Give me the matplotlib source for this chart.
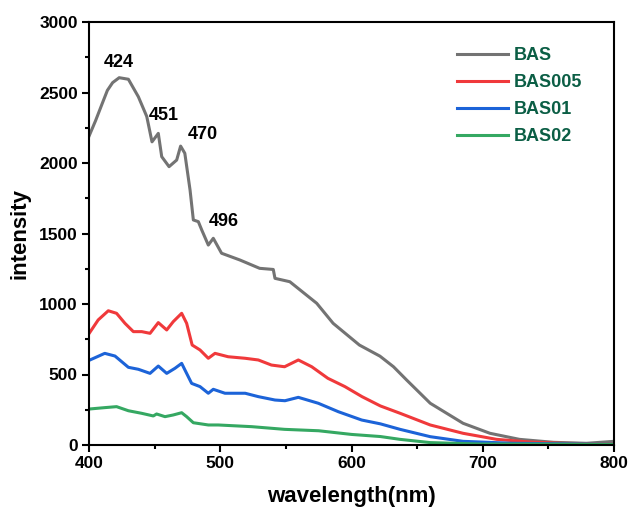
import matplotlib
matplotlib.use("Agg")
import matplotlib.pyplot as plt
from matplotlib.ticker import MultipleLocator

plt.rcParams['font.family'] = ['Liberation Sans', 'DejaVu Sans']
plt.rcParams['font.weight'] = 'bold'

# spectra (wavelength nm, intensity)
bas_x = [400, 405, 410, 414, 418, 423, 430, 437.6, 444, 448, 452.8, 455.4, 461, 466.8,
         469.8, 473, 477, 479.5, 483.3, 485.9, 490.9, 494.7, 501, 515, 530, 540.4, 541.7, 553,
         573.5, 586, 606, 621.7, 632, 642, 660, 685, 705.5, 728, 754, 779, 800]
bas_y = [2190, 2300, 2420, 2515, 2570, 2605, 2594, 2470, 2330, 2150, 2210, 2045, 1974, 2021,
         2120, 2069, 1808, 1596, 1584, 1525, 1418, 1466, 1360, 1312, 1253, 1245, 1182, 1158,
         1005, 863, 709, 630, 555, 461, 296, 154, 83, 40, 19, 12, 26]

bas005_x = [400, 407, 414.7, 421, 427.4, 433.8, 440.2, 446.5, 452.8, 459.2, 464.2, 470.6, 474.4,
            478.6, 484.6, 490.9, 496, 506, 519, 529, 539, 549, 559.5, 569.7, 582, 595, 608, 622,
            637, 660, 685, 710.6, 736, 761, 800]
bas005_y = [790, 887, 952, 934, 863, 804, 804, 792, 868, 816, 875, 934, 863,
            709, 674, 615, 650, 626, 615, 603, 567, 555, 603, 555, 473, 414, 343, 277,
            225, 142, 83, 40, 21, 12, 7]

bas01_x = [400, 412, 419.8, 430, 437.6, 446.5, 452.8, 459.2, 465.5, 470.6, 473.1, 478.2, 484.6,
           490.9, 494.7, 503.6, 519, 529, 541.7, 549.3, 559.5, 574.7, 590, 607.8, 622, 637, 660,
           685, 723, 800]
bas01_y = [600, 650, 631, 551, 537, 508, 560, 508, 544, 579, 532, 437, 414,
           367, 395, 367, 367, 343, 319, 314, 338, 296, 236, 177, 150, 111, 59,
           26, 12, 5]

bas02_x = [400, 412, 421, 430, 440, 449, 451.5, 457.9, 464.2, 470.6, 474.4, 479.5, 490.9, 498.5,
           524, 549, 575, 600, 622, 637, 660, 698, 800]
bas02_y = [255, 265, 272, 243, 225, 206, 220, 201, 213, 229, 201, 158, 142, 142,
           130, 111, 101, 75, 60, 40, 17, 7, 5]

peak_labels = ['424', '451', '470', '496']
peak_x = [422.9, 457.3, 487.0, 502.3]
peak_y = [2716, 2340, 2199, 1582]

fig = plt.figure(figsize=(6.3, 5.13), dpi=100)
ax = fig.add_axes([89 / 630, 1 - 445 / 513, 525 / 630, 423 / 513])

ax.plot(bas_x, bas_y, color='#737373', lw=2.2, label='BAS')
ax.plot(bas005_x, bas005_y, color='#f0393b', lw=2.2, label='BAS005')
ax.plot(bas01_x, bas01_y, color='#1c63d8', lw=2.2, label='BAS01')
ax.plot(bas02_x, bas02_y, color='#35a862', lw=2.2, label='BAS02')

for t, x, y in zip(peak_labels, peak_x, peak_y):
    ax.text(x, y, t, ha='center', va='center', fontsize=13, fontweight='bold')

ax.set_xlim(400, 800)
ax.set_ylim(0, 3000)
ax.xaxis.set_major_locator(MultipleLocator(100))
ax.xaxis.set_minor_locator(MultipleLocator(50))
ax.yaxis.set_major_locator(MultipleLocator(500))
ax.yaxis.set_minor_locator(MultipleLocator(250))
ax.tick_params(which='major', direction='out', length=5, width=1.5, labelsize=12.5, pad=3)
ax.tick_params(which='minor', direction='out', length=3, width=1.5)
for s in ax.spines.values():
    s.set_linewidth(1.5)
for lab in ax.get_xticklabels() + ax.get_yticklabels():
    lab.set_fontweight('bold')

ax.set_xlabel('wavelength(nm)', fontsize=16, fontweight='bold', labelpad=11)
ax.set_ylabel('intensity', fontsize=16, fontweight='bold', labelpad=6)

leg = ax.legend(loc='upper left', bbox_to_anchor=(441 / 630, 1 - 31 / 513),
                bbox_transform=fig.transFigure, frameon=False, fontsize=13,
                handlelength=2.8, handletextpad=0.35, labelspacing=0.55)
for txt in leg.get_texts():
    txt.set_color('#0b5e45')
    txt.set_fontweight('bold')

fig.savefig('out.png', dpi=100)
